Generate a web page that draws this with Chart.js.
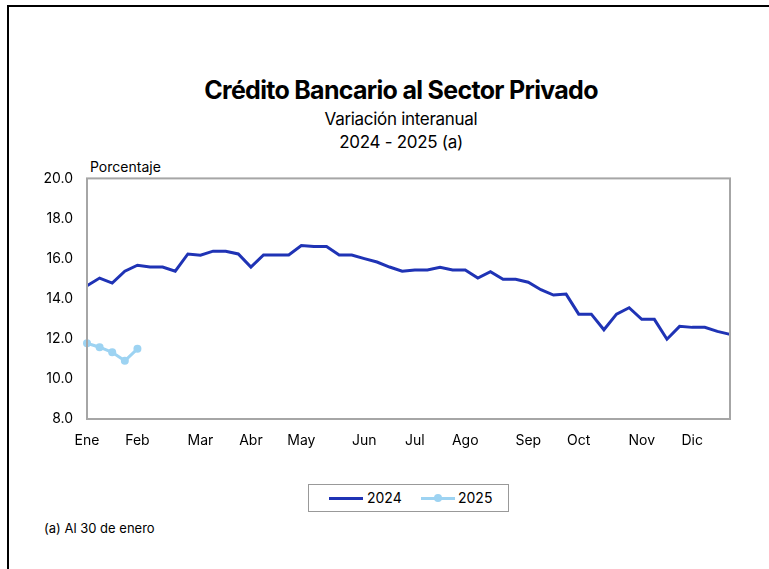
<!DOCTYPE html>
<html>
<head>
<meta charset="utf-8">
<script src="https://cdn.jsdelivr.net/npm/chart.js@4"></script>
<style>
  html, body { margin: 0; padding: 0; background: #fff; overflow: hidden; }
  body { width: 769px; height: 569px; position: relative; font-family: Inter, "Noto Sans", sans-serif; color: #000; }
  .frame { position: absolute; left: 7px; top: 5px; width: 900px; height: 900px; border: 2px solid #000; box-sizing: border-box; }
  .title { position: absolute; left: 0; width: 802px; text-align: center; white-space: nowrap; }
  .t1 { top: 75px; font-size: 25px; font-weight: 700; letter-spacing: -0.7px; }
  .t2 { top: 109px; font-size: 17px; letter-spacing: -0.3px; }
  .t3 { top: 132px; font-size: 17px; letter-spacing: -0.3px; }
  .unit { position: absolute; left: 90px; top: 158px; font-size: 14px; }
  .chartbox { position: absolute; left: 0; top: 156px; width: 769px; height: 295px; }
  .legend { position: absolute; left: 308px; top: 484px; width: 201px; height: 28px; border: 1.5px solid #999; box-sizing: border-box; font-size: 14px; }
  .legend span { position: absolute; top: 4px; }
  .sw { position: absolute; top: 12px; height: 3px; width: 34px; }
  .dot { position: absolute; top: 9px; width: 8px; height: 8px; border-radius: 50%; background: #9dd3f2; }
  .note { position: absolute; left: 44px; top: 520px; font-size: 13px; }
</style>
</head>
<body>
<div class="frame"></div>
<div class="title t1">Crédito Bancario al Sector Privado</div>
<div class="title t2">Variación interanual</div>
<div class="title t3">2024 - 2025 (a)</div>
<div class="unit">Porcentaje</div>
<div class="chartbox"><canvas id="chart"></canvas></div>
<div class="legend">
  <div class="sw" style="left:20px;background:#1f33b5"></div><span style="left:58px">2024</span>
  <div class="sw" style="left:112px;background:#9dd3f2"></div><div class="dot" style="left:125px"></div><span style="left:149px">2025</span>
</div>
<div class="note">(a) Al 30 de enero</div>
<script>
// semanas del año, mes rotulado en su primera semana
const monthNames = ['Ene', 'Feb', 'Mar', 'Abr', 'May', 'Jun', 'Jul', 'Ago', 'Sep', 'Oct', 'Nov', 'Dic'];
const monthWeek = [0, 4, 9, 13, 17, 22, 26, 30, 35, 39, 44, 48];

const serie2024 = [14.65, 15.03, 14.78, 15.37, 15.67, 15.58, 15.58, 15.37, 16.23, 16.17,
  16.37, 16.37, 16.23, 15.58, 16.18, 16.18, 16.18, 16.65, 16.6, 16.6,
  16.18, 16.18, 16.0, 15.83, 15.58, 15.37, 15.43, 15.43, 15.57, 15.43,
  15.43, 15.03, 15.35, 14.97, 14.97, 14.82, 14.45, 14.18, 14.23, 13.23,
  13.23, 12.45, 13.23, 13.55, 12.97, 12.97, 11.98, 12.62, 12.57, 12.57,
  12.37, 12.22];
const serie2025 = [11.78, 11.58, 11.33, 10.9, 11.5];

const labels = serie2024.map((v, i) => {
  const m = monthWeek.indexOf(i);
  return m >= 0 ? monthNames[m] : '';
});

// marco gris alrededor del area de grafico
const boxPlugin = {
  id: 'box',
  afterDraw(chart) {
    const { ctx, chartArea: a } = chart;
    ctx.save();
    ctx.strokeStyle = '#a6a6a6';
    ctx.lineWidth = 2;
    ctx.strokeRect(a.left, a.top, a.right - a.left, a.bottom - a.top);
    ctx.restore();
  }
};

const font = { family: 'Inter, "Noto Sans", sans-serif', size: 14 };

new Chart(document.getElementById('chart'), {
  type: 'line',
  data: {
    labels: labels,
    datasets: [
      {
        label: '2024',
        data: serie2024,
        borderColor: '#1f33b5',
        borderWidth: 3,
        pointRadius: 0,
        tension: 0
      },
      {
        label: '2025',
        data: serie2025,
        borderColor: '#9dd3f2',
        backgroundColor: '#9dd3f2',
        borderWidth: 3,
        pointRadius: 4,
        pointBorderWidth: 0,
        tension: 0
      }
    ]
  },
  options: {
    responsive: true,
    maintainAspectRatio: false,
    animation: false,
    layout: { padding: { left: 0, right: 39, top: 10, bottom: 0 } },
    plugins: { legend: { display: false }, tooltip: { enabled: false } },
    scales: {
      x: {
        grid: { display: false, drawTicks: false },
        border: { display: false },
        ticks: { autoSkip: false, maxRotation: 0, padding: 13, color: '#000', font: font },
        afterFit: (s) => { s.height = 32; }
      },
      y: {
        min: 8,
        max: 20,
        grid: { display: false, drawTicks: false },
        border: { display: false },
        ticks: {
          stepSize: 2,
          padding: 14,
          color: '#000',
          font: font,
          callback: (v) => v.toFixed(1)
        },
        afterFit: (s) => { s.width = 87; }
      }
    }
  },
  plugins: [boxPlugin]
});
</script>
</body>
</html>
